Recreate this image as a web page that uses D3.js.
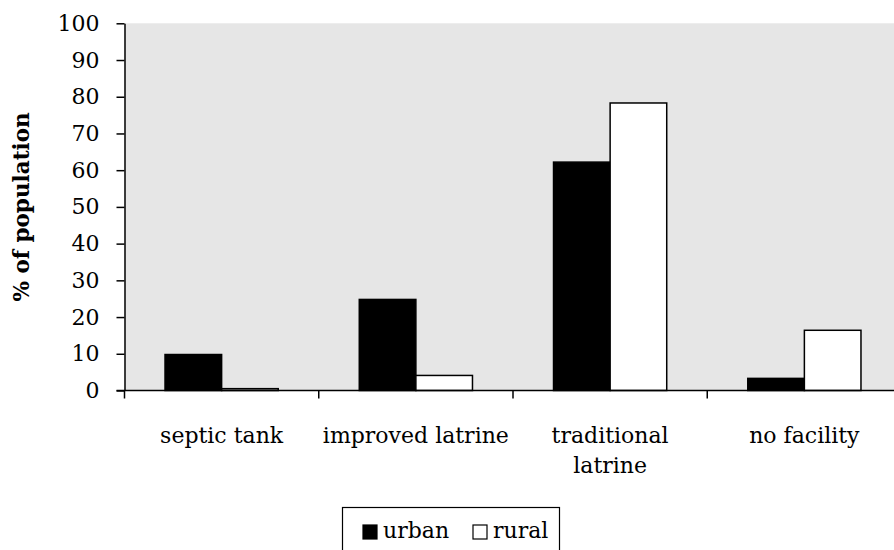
<!DOCTYPE html>
<html><head><meta charset="utf-8">
<script src="https://cdn.jsdelivr.net/npm/d3@7"></script>
<style>
html,body{margin:0;padding:0;background:#fff;overflow:hidden;}
text{font-family:"DejaVu Serif",serif;}
</style></head>
<body><svg id="c" width="894" height="550"></svg>
<script>
const categories = [["septic tank"], ["improved latrine"], ["traditional", "latrine"], ["no facility"]];
const seriesNames = ["urban", "rural"];
const urban = [9.8, 24.8, 62.2, 3.3];
const rural = [0.5, 4.1, 78.3, 16.4];
const yTicks = [0, 10, 20, 30, 40, 50, 60, 70, 80, 90, 100];

const svg = d3.select("#c");
const pLeft = 124.5, pTop = 23.3, pBottom = 390.5, pRight = 901.5;
const keys = categories.map((c, i) => i);
const x = d3.scaleBand().domain(keys).range([pLeft, pRight]).paddingInner(0).paddingOuter(0);
const y = d3.scaleLinear().domain([0, 100]).range([pBottom, pTop]);
const inner = d3.scaleBand().domain(seriesNames).range([0, x.bandwidth()]).paddingOuter(0.716).paddingInner(0);

svg.append("rect").attr("x", pLeft).attr("y", pTop).attr("width", pRight - pLeft).attr("height", pBottom - pTop).attr("fill", "#e6e6e6");

const data = keys.map(i => ({i, vals: [{s: "urban", v: urban[i]}, {s: "rural", v: rural[i]}]}));
const g = svg.append("g");
data.forEach(d => {
  d.vals.forEach(b => {
    g.append("rect")
      .attr("x", x(d.i) + inner(b.s))
      .attr("y", y(b.v))
      .attr("width", inner.bandwidth())
      .attr("height", y(0) - y(b.v))
      .attr("fill", b.s === "urban" ? "#000" : "#fff")
      .attr("stroke", "#000").attr("stroke-width", 1.5);
  });
});

// y axis
const ya = svg.append("g").attr("transform", `translate(${pLeft},0)`)
  .call(d3.axisLeft(y).tickValues(yTicks).tickSize(8).tickPadding(17).tickSizeOuter(0));
ya.select(".domain").attr("stroke", "#000").attr("stroke-width", 1.5);
ya.selectAll(".tick line").attr("stroke", "#000").attr("stroke-width", 1.5);
ya.selectAll("text").attr("font-size", 22).attr("font-family", "DejaVu Serif").attr("fill", "#000");

// x axis
const xa = svg.append("g").attr("transform", `translate(0,${pBottom})`);
xa.append("line").attr("x1", pLeft - 8).attr("x2", pRight).attr("y1", 0).attr("y2", 0).attr("stroke", "#000").attr("stroke-width", 1.5);
const tickXs = keys.map(i => x(i)).concat([pRight]);
tickXs.forEach(tx => {
  xa.append("line").attr("x1", tx).attr("x2", tx).attr("y1", 0).attr("y2", 8).attr("stroke", "#000").attr("stroke-width", 1.5);
});
keys.forEach(i => {
  const t = xa.append("text").attr("x", x(i) + x.bandwidth() / 2).attr("y", 52)
    .attr("text-anchor", "middle").attr("font-size", 22).attr("fill", "#000");
  categories[i].forEach((line, k) => {
    t.append("tspan").attr("x", x(i) + x.bandwidth() / 2).attr("dy", k === 0 ? 0 : 30).text(line);
  });
});

// y title
svg.append("text").attr("transform", `translate(29,${(pTop + pBottom) / 2}) rotate(-90)`)
  .attr("text-anchor", "middle").attr("font-size", 21.5).attr("font-weight", "bold").attr("fill", "#000")
  .text("% of population");

// legend
const lg = svg.append("g");
lg.append("rect").attr("x", 342.5).attr("y", 507.5).attr("width", 217).attr("height", 60).attr("fill", "#fff").attr("stroke", "#000").attr("stroke-width", 1.2);
const legendX = [362, 472];
seriesNames.forEach((s, k) => {
  lg.append("rect").attr("x", legendX[k] + 1).attr("y", 525).attr("width", 14).attr("height", 14)
    .attr("fill", s === "urban" ? "#000" : "#fff").attr("stroke", "#000").attr("stroke-width", 1.2);
  lg.append("text").attr("x", legendX[k] + 21).attr("y", 538).attr("font-size", 22).attr("fill", "#000").text(s);
});
</script></body></html>
